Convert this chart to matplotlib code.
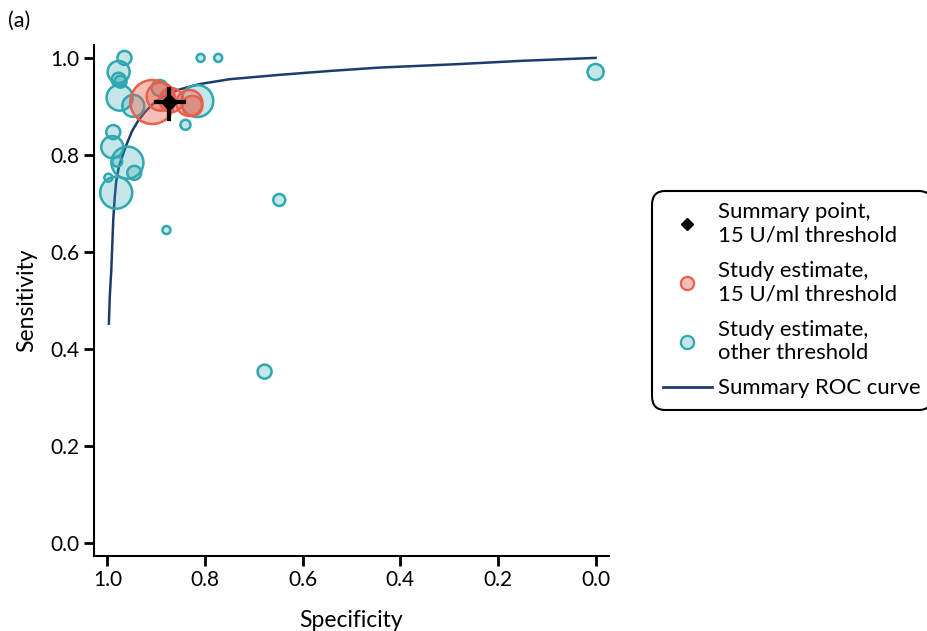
import matplotlib.pyplot as plt
from matplotlib.lines import Line2D

plt.rcParams['font.family'] = ['Lato', 'DejaVu Sans']
plt.rcParams['font.size'] = 14

# Studies reporting the 15 U/ml threshold
spec_15 = [0.908, 0.891, 0.869, 0.832, 0.826]
sens_15 = [0.909, 0.920, 0.913, 0.907, 0.901]
size_15 = [22, 14, 12, 13, 10]

# Studies reporting other thresholds
spec_other = [0.965, 0.977, 0.977, 0.973, 0.975, 0.947, 0.816, 0.840, 0.988, 0.990, 0.959,
              0.980, 0.945, 0.998, 0.982, 0.879, 0.809, 0.773, 0.648, 0.678, 0.0, 0.893]
sens_other = [1.0, 0.971, 0.955, 0.951, 0.918, 0.901, 0.911, 0.862, 0.847, 0.816, 0.784,
              0.786, 0.763, 0.753, 0.722, 0.645, 1.0, 1.0, 0.707, 0.353, 0.971, 0.938]
size_other = [7, 11, 7, 6, 13, 11, 16, 5, 7, 11, 16, 5, 7, 4, 16, 4, 4, 4, 6, 7, 8, 8]

# Summary estimate with 95% CI
summ_spec, summ_spec_ci = 0.873, (0.844, 0.900)
summ_sens, summ_sens_ci = 0.909, (0.874, 0.936)

# Summary ROC curve
roc_spec = [0.997, 0.995, 0.992, 0.988, 0.985, 0.982, 0.977, 0.969, 0.961, 0.949, 0.936,
            0.924, 0.910, 0.893, 0.873, 0.852, 0.811, 0.750, 0.648, 0.545, 0.443, 0.285,
            0.150, 0.0]
roc_sens = [0.452, 0.510, 0.563, 0.666, 0.712, 0.745, 0.773, 0.798, 0.821, 0.850, 0.872,
            0.887, 0.902, 0.916, 0.927, 0.935, 0.946, 0.956, 0.965, 0.973, 0.980, 0.987,
            0.994, 1.0]

red_edge, red_face = '#e8604c', (0.91, 0.38, 0.30, 0.4)
teal_edge, teal_face = '#2fa8b0', (0.18, 0.66, 0.69, 0.28)
navy = '#1c3c70'


def area(r):
    # marker radius in pixels -> scatter area in points^2
    return (2 * r * 0.72) ** 2


fig = plt.figure(figsize=(9.28, 6.31), dpi=100)
ax = fig.add_axes([0.101, 0.119, 0.555, 0.81])

ax.plot(roc_spec, roc_sens, color=navy, lw=1.8, zorder=1)
ax.scatter(spec_other, sens_other, s=[area(r) for r in size_other],
           facecolor=teal_face, edgecolor=teal_edge, linewidth=1.8, zorder=2)
ax.scatter(spec_15, sens_15, s=[area(r) for r in size_15],
           facecolor=red_face, edgecolor=red_edge, linewidth=1.8, zorder=3)

ax.plot(summ_spec_ci, [summ_sens] * 2, color='black', lw=3, zorder=4)
ax.plot([summ_spec] * 2, summ_sens_ci, color='black', lw=3, zorder=4)
ax.plot(summ_spec, summ_sens, marker='D', color='black', ms=8, zorder=5)

ax.set_xlim(1.028, -0.027)
ax.set_ylim(-0.027, 1.027)
ax.set_xticks([1.0, 0.8, 0.6, 0.4, 0.2, 0.0])
ax.set_yticks([0.0, 0.2, 0.4, 0.6, 0.8, 1.0])
ax.set_xticklabels(['1.0', '0.8', '0.6', '0.4', '0.2', '0.0'])
ax.set_yticklabels(['0.0', '0.2', '0.4', '0.6', '0.8', '1.0'])
for side in ['top', 'right']:
    ax.spines[side].set_visible(False)
for side in ['left', 'bottom']:
    ax.spines[side].set_linewidth(1.5)
ax.tick_params(length=7, width=2, labelsize=15)
ax.set_xlabel('Specificity', fontsize=16.5, labelpad=14)
ax.set_ylabel('Sensitivity', fontsize=16.5, labelpad=9)

fig.text(0.009, 0.958, '(a)', fontsize=15.5)

handles = [
    Line2D([], [], ls='none', marker='D', color='black', ms=6),
    Line2D([], [], ls='none', marker='o', ms=9.5, mfc=red_face, mec=red_edge, mew=1.6),
    Line2D([], [], ls='none', marker='o', ms=9.5, mfc=teal_face, mec=teal_edge, mew=1.6),
    Line2D([], [], color=navy, lw=2),
]
labels = ['Summary point,\n15 U/ml threshold', 'Study estimate,\n15 U/ml threshold',
          'Study estimate,\nother threshold', 'Summary ROC curve']
leg = fig.legend(handles, labels, loc='center left', bbox_to_anchor=(0.7025, 0.5238),
                 fontsize=15.9, frameon=True, fancybox=True, edgecolor='black',
                 framealpha=1, handlelength=2.2, labelspacing=0.7, borderpad=0.5,
                 handletextpad=0.3, borderaxespad=0)
leg.get_frame().set_linewidth(1.5)
leg.get_frame().set_boxstyle('round', pad=0, rounding_size=0.6)

fig.savefig('out.png', dpi=100)
